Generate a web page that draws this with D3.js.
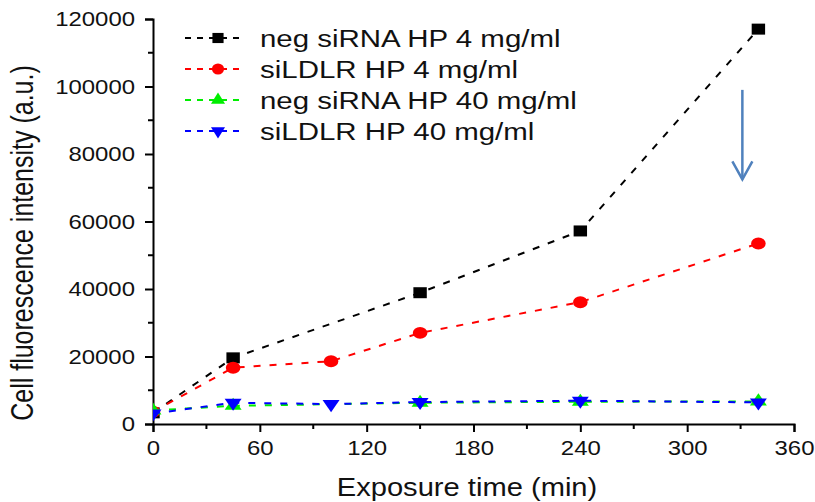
<!DOCTYPE html>
<html>
<head>
<meta charset="utf-8">
<script src="https://cdn.jsdelivr.net/npm/d3@7"></script>
<style>
  body { margin: 0; background: #fff; }
  svg text { font-family: "Liberation Sans", Arial, sans-serif; fill: #111; }
</style>
</head>
<body>
<div id="chart"></div>
<script>
// data
const seriesNames = ["neg siRNA HP 4 mg/ml", "siLDLR HP 4 mg/ml", "neg siRNA HP 40 mg/ml", "siLDLR HP 40 mg/ml"];
const negHP4 = [[0, 3300], [45, 19600], [150, 38900], [240, 57200], [340, 117000]];
const siHP4 = [[0, 3600], [45, 16700], [100, 18600], [150, 27000], [240, 36100], [340, 53500]];
const negHP40 = [[0, 4000], [45, 5400], [150, 6300], [240, 6600], [340, 6700]];
const siHP40 = [[0, 3100], [45, 6300], [100, 5900], [150, 6500], [240, 6900], [340, 6400]];
const xTicks = [0, 60, 120, 180, 240, 300, 360];
const yTicks = [0, 20000, 40000, 60000, 80000, 100000, 120000];
const arrowX = 331, arrowFrom = 99000, arrowTo = 72500;

const width = 815, height = 502;
const svg = d3.select("#chart").append("svg")
    .attr("width", width)
    .attr("height", height);

const x = d3.scaleLinear().domain([0, 360]).range([153, 794]);
const y = d3.scaleLinear().domain([0, 120000]).range([424, 19]);

// the original picture is a bit wider than tall, stretch text to match
function stretch(sel, k) {
    sel.each(function () {
        const len = this.getComputedTextLength();
        d3.select(this).attr("textLength", len * k).attr("lengthAdjust", "spacingAndGlyphs");
    });
}

// axes
const xAxis = svg.append("g").attr("transform", `translate(0,${y(0)})`)
    .call(d3.axisBottom(x).tickValues(xTicks).tickFormat(d3.format("d")).tickSize(8).tickPadding(8));
const yAxis = svg.append("g").attr("transform", `translate(${x(0)},0)`)
    .call(d3.axisLeft(y).tickValues(yTicks).tickFormat(d3.format("d")).tickSize(8).tickPadding(10));

[xAxis, yAxis].forEach(g => {
    g.attr("font-family", null);
    g.select(".domain").attr("stroke-width", 2);
    g.selectAll(".tick line").attr("stroke-width", 2);
    g.selectAll("text").attr("font-size", 21).call(stretch, 1.14);
});

// minor ticks
svg.append("g").selectAll("line")
    .data(d3.range(30, 360, 60))
    .join("line")
    .attr("x1", d => x(d)).attr("x2", d => x(d))
    .attr("y1", y(0)).attr("y2", y(0) + 5)
    .attr("stroke", "#000").attr("stroke-width", 2);
svg.append("g").selectAll("line")
    .data(d3.range(10000, 120000, 20000))
    .join("line")
    .attr("x1", x(0) - 5).attr("x2", x(0))
    .attr("y1", d => y(d)).attr("y2", d => y(d))
    .attr("stroke", "#000").attr("stroke-width", 2);

// axis titles
svg.append("text")
    .attr("x", 467).attr("y", 496)
    .attr("text-anchor", "middle")
    .attr("font-size", 26)
    .text("Exposure time (min)")
    .call(stretch, 1.12);
svg.append("text")
    .attr("transform", "translate(33,243) scale(1.25,1) rotate(-90)")
    .attr("text-anchor", "middle")
    .attr("font-size", 25)
    .text("Cell fluorescence intensity (a.u.)");

// series
const series = [
    { name: seriesNames[0], values: negHP4, color: "#000000", symbol: d3.symbolSquare, size: 121, rot: 0 },
    { name: seriesNames[1], values: siHP4, color: "#ff0000", symbol: d3.symbolCircle, size: 113, rot: 0 },
    { name: seriesNames[2], values: negHP40, color: "#00ee00", symbol: d3.symbolTriangle, size: 84, rot: 0 },
    { name: seriesNames[3], values: siHP40, color: "#0000ff", symbol: d3.symbolTriangle, size: 84, rot: 180 }
];

svg.append("clipPath").attr("id", "plot-clip")
    .append("rect")
    .attr("x", x(0)).attr("y", 0)
    .attr("width", x(360) - x(0) + 20).attr("height", y(0));

const plot = svg.append("g").attr("clip-path", "url(#plot-clip)");
const line = d3.line().x(d => x(d[0])).y(d => y(d[1]));

series.forEach(s => {
    plot.append("path")
        .datum(s.values)
        .attr("d", line)
        .attr("fill", "none")
        .attr("stroke", s.color)
        .attr("stroke-width", 2)
        .attr("stroke-dasharray", "7,9");
    plot.append("g").selectAll("path")
        .data(s.values)
        .join("path")
        .attr("transform", d => `translate(${x(d[0])},${y(d[1])}) scale(1.22,1) rotate(${s.rot})`)
        .attr("d", d3.symbol().type(s.symbol).size(s.size))
        .attr("fill", s.color);
});

// legend
const legend = svg.append("g");
series.forEach((s, i) => {
    const ly = 38 + i * 31;
    const row = legend.append("g").attr("transform", `translate(0,${ly})`);
    row.append("line")
        .attr("x1", 185).attr("x2", 245)
        .attr("stroke", s.color).attr("stroke-width", 2)
        .attr("stroke-dasharray", "6,6");
    row.append("path")
        .attr("transform", `translate(218,0) scale(1.1,1) rotate(${s.rot})`)
        .attr("d", d3.symbol().type(s.symbol).size(s.size * 0.85))
        .attr("fill", s.color);
    row.append("text")
        .attr("x", 260).attr("y", 9)
        .attr("font-size", 23)
        .text(s.name)
        .call(stretch, 1.28);
});

// arrow annotation
const ax = x(arrowX);
svg.append("line")
    .attr("x1", ax).attr("x2", ax)
    .attr("y1", y(arrowFrom)).attr("y2", y(arrowTo))
    .attr("stroke", "#4f81bd").attr("stroke-width", 2.5);
svg.append("path")
    .attr("d", `M${ax - 10},${y(arrowTo) - 18} L${ax},${y(arrowTo)} L${ax + 10},${y(arrowTo) - 18}`)
    .attr("fill", "none")
    .attr("stroke", "#4f81bd").attr("stroke-width", 2.5);
</script>
</body>
</html>
